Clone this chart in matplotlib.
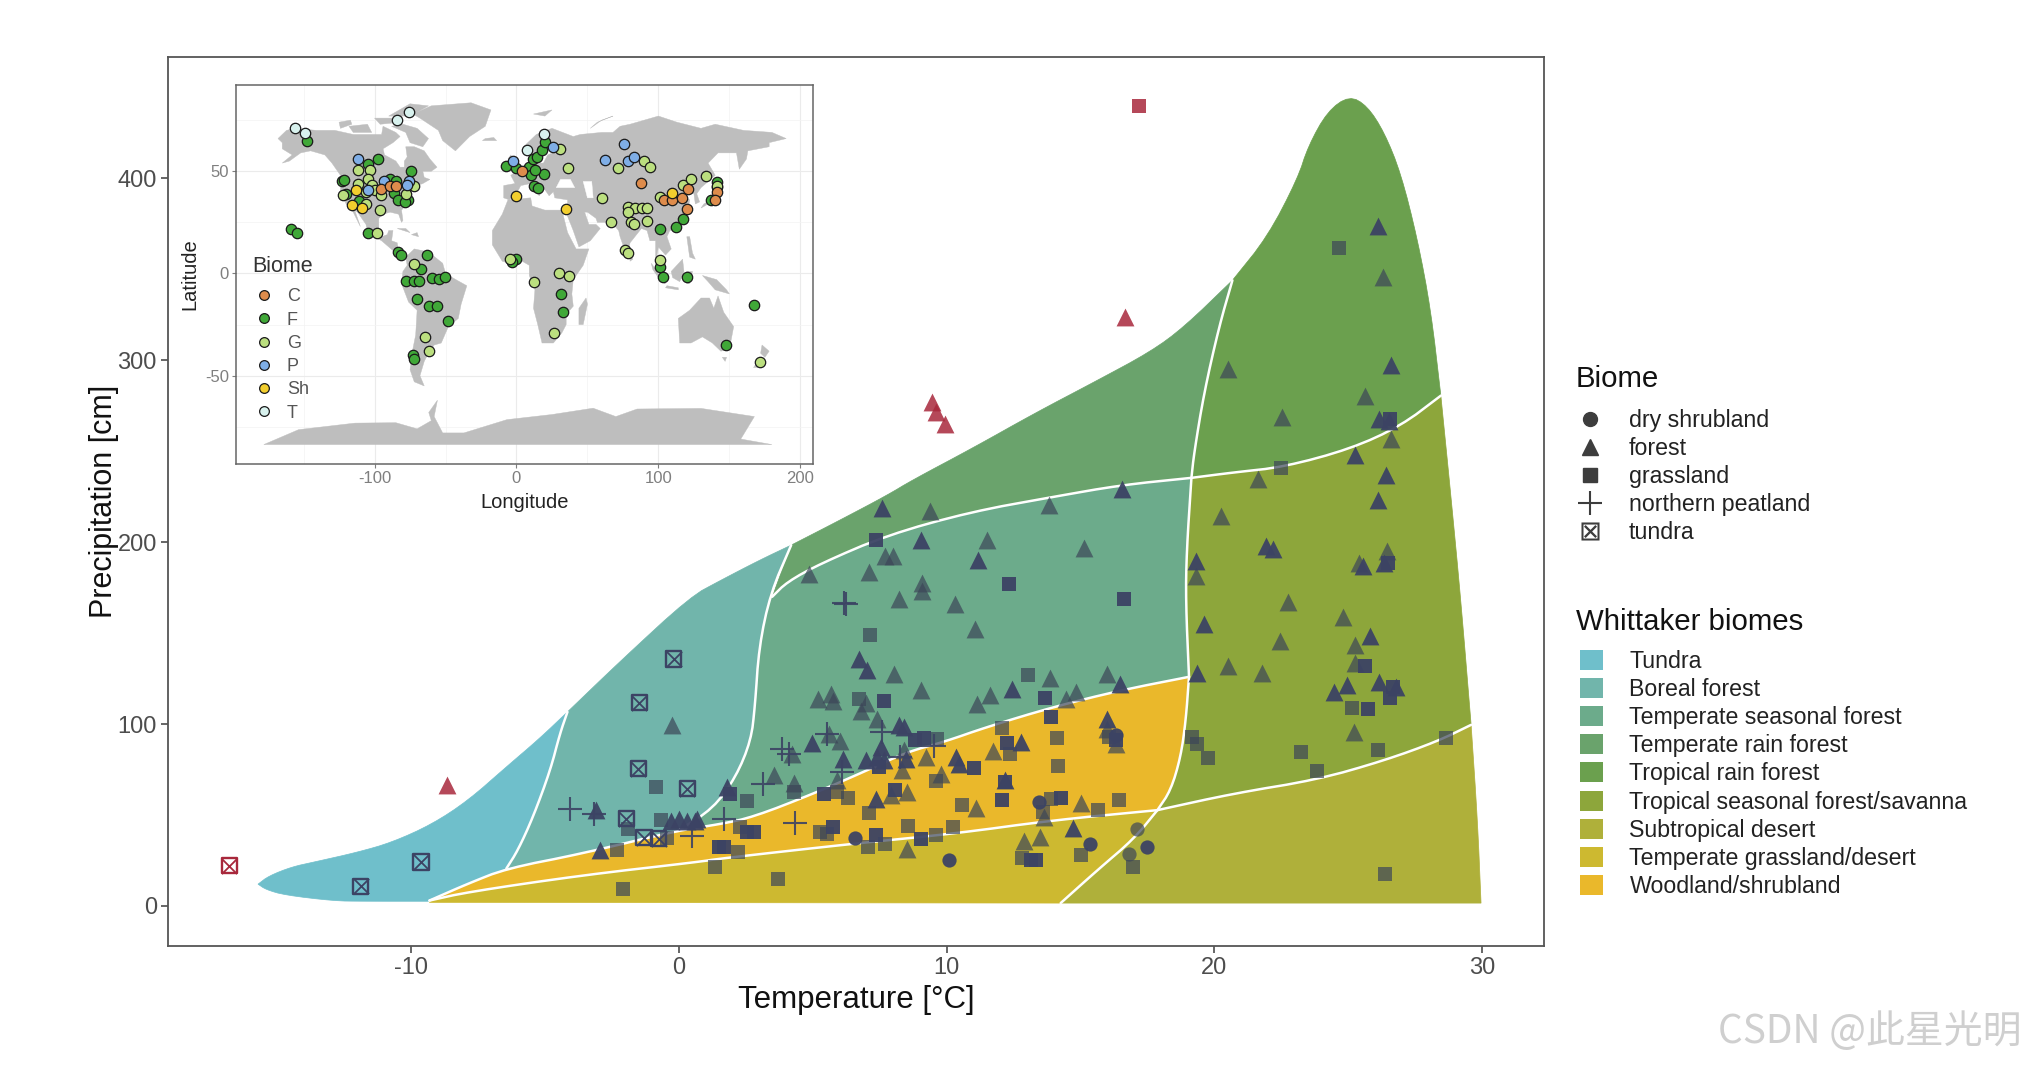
import numpy as np
import matplotlib
matplotlib.use("Agg")
import matplotlib.pyplot as plt
from matplotlib.lines import Line2D
from matplotlib.patches import Patch, Polygon

plt.rcParams['font.family'] = ['Liberation Sans', 'DejaVu Sans']
plt.rcParams['axes.unicode_minus'] = False

W, H = 2026, 1066

# ---- Whittaker boundaries, (temperature, precipitation) ----
tundra_top = [(-15.7, 12), (-15.3, 16.5), (-14.44, 21.5), (-13.6, 24.2), (-12, 29.5), (-10.7, 35), (-9.2, 45), (-7.86, 58), (-6.43, 76.5), (-5.2, 92), (-4.15, 106.7)]
tundra_bottom = [(-9.3, 2.6), (-11.8, 2.6), (-12.87, 2.8), (-14.7, 6), (-15.4, 9), (-15.7, 12)]
tundra_boreal = [(-4.15, 106.7), (-4.43, 94.8), (-4.79, 74.6), (-5.43, 49), (-6, 30.6), (-6.43, 20.6)]
boreal_top = [(-4.15, 106.7), (-2.15, 135), (0.43, 170), (1.56, 179), (3, 190), (4.2, 198.4)]
boreal_seasonal = [(4.2, 198.4), (3.43, 172), (3, 142.5), (2.85, 110), (2.7, 91), (2.14, 71), (1.29, 53.6), (0, 41.6)]
rain_top = [(4.2, 198.4), (6, 212), (7.8, 226), (8.7, 234), (11, 252), (13.3, 271), (15.5, 288), (17.62, 304.8), (18.87, 318.4), (20.67, 344)]
seasonal_rain = [(3.49, 170), (4.05, 178.2), (5.3, 188.3), (7.78, 203.9), (10.9, 216.7), (14, 225), (16.5, 231.4), (19.14, 235.4)]
rain_tropical_v = [(20.67, 344), (20.17, 318.4), (19.61, 282), (19.24, 249), (19.14, 235.4)]
seasonal_right = [(19.14, 235.4), (18.96, 194.7), (18.93, 167.5), (19.05, 126)]
tropical_top = [(20.67, 344), (21.98, 368), (23.1, 399.8), (23.5, 417.9), (24.22, 437), (25.03, 445.5), (25.7, 440), (26.34, 425.4), (26.96, 402.8), (27.58, 366.6), (28.08, 327.4), (28.45, 280.6)]
tropical_low = [(19.14, 235.4), (20.73, 238.4), (22.6, 241.4), (25.09, 251.4), (26.96, 264), (28.45, 280.6)]
savanna_right = [(28.45, 280.6), (28.83, 224.8), (29.2, 167.5), (29.58, 99.6)]
desert_right = [(29.58, 99.6), (29.82, 46.9), (29.95, 1.6)]
desert_top = [(17.87, 52.7), (20.73, 61.9), (23.85, 69.5), (26.34, 80), (28.33, 90.6), (29.58, 99.6)]
woodland_top = [(-9.3, 3), (-7.86, 12.3), (-6.43, 20.6), (-3.6, 28.8), (0, 41.6), (1.56, 45), (2.8, 49), (5.04, 61.8), (7.04, 74.6), (8.53, 84.7), (9.9, 90.2), (11.52, 98.5), (14, 109.5), (16.5, 118.6), (19.05, 126)]
woodland_right = [(19.05, 126), (18.93, 102), (18.74, 82), (18.37, 63.6), (17.87, 52.7)]
grass_right = [(17.87, 52.7), (17, 37), (15.63, 19.7), (14.26, 1.6)]
grass_top = [(-9.3, 3), (-7.86, 7.7), (-3.6, 16.9), (0.72, 24.2), (1.56, 26.1), (6.54, 34.3), (10.3, 39.8), (14, 47.2), (17.87, 52.7)]

biome_names = ['Tundra', 'Boreal forest', 'Temperate seasonal forest', 'Temperate rain forest',
               'Tropical rain forest', 'Tropical seasonal forest/savanna', 'Subtropical desert',
               'Temperate grassland/desert', 'Woodland/shrubland']
biome_colors = ['#6FBFCB', '#71B5AB', '#6CAB8B', '#6AA36C', '#6BA04E', '#8DA63B', '#AFB03A', '#CDB930', '#EAB82B']

# ---- study sites on the main panel ----
forest_dark_T = [7.60, 16.56, 9.05, 11.17, 6.73, 7.04, 8.22, 8.41, 12.46, 16.48, 4.96, 7.54, 6.98, 7.41, 7.66, 8.47, 6.14, 10.36, 10.46, 12.77, 12.17, 7.35, 16.0, 14.73,
                 26.09, 26.59, 26.13, 26.52, 25.24, 26.41, 26.09, 21.92, 22.2, 19.3, 25.53, 26.34, 19.6, 25.8, 19.36, 26.13, 24.93, 24.47, 26.77,
                 -3.1, -2.93, -0.3, 0.0, 0.3, 0.6, 0.7, 1.8]
forest_dark_P = [219.1, 229.2, 201.5, 190.5, 136.0, 129.6, 99.4, 98.5, 119.2, 122.3, 89.7, 87.5, 80.1, 82.0, 80.1, 81.0, 81.0, 82.0, 78.3, 90.2, 69.1, 59.1, 103.0, 42.9,
                 373.9, 297.2, 267.7, 266.5, 248.1, 236.9, 223.3, 197.7, 196.2, 189.9, 187.1, 188.6, 154.9, 148.5, 128.3, 123.2, 121.4, 117.8, 120.2,
                 52.6, 30.6, 47, 48, 47, 47, 48, 65.5]
forest_faint_T = [9.40, 13.82, 11.5, 15.13, 7.72, 8.01, 4.88, 7.12, 9.09, 9.09, 8.23, 10.3, 11.05, 8.03, 9.03, 5.21, 5.67, 5.75, 7.01, 6.81, 7.39, 11.61, 11.15, 13.86, 16.0, 14.85, 14.45,
                  5.61, 6.04, 4.24, 8.41, 9.22, 8.35, 11.74, 9.78, 3.55, 4.32, 5.92, 7.91, 8.51, 11.11, 15.03, 13.64, 16.0, 16.32, 12.89, 13.48, 8.53,
                  26.3, 20.51, 25.61, 22.51, 26.59, 21.64, 20.24, 19.3, 25.4, 26.44, 22.75, 24.78, 25.24, 22.44, 25.24, 20.52, 21.79, 25.22, -0.26]
forest_faint_P = [217.2, 220.4, 201.5, 196.7, 192.3, 192.3, 182.8, 183.7, 177.6, 173.3, 169.0, 165.9, 152.2, 127.4, 118.6, 113.7, 116.8, 112.8, 111.7, 107.3, 103.0, 115.9, 111.0, 125.2, 127.4, 117.9, 114.0,
                  94.8, 90.8, 83.8, 85.6, 82.0, 75.0, 85.3, 72.8, 71.9, 67.7, 69.1, 60.9, 62.7, 54.1, 56.7, 49.0, 97.5, 89.3, 35.8, 38.0, 31.6,
                  346.1, 295.1, 280.6, 268.6, 256.5, 234.8, 214.3, 181.7, 188.6, 195.3, 166.9, 159.1, 143.4, 145.5, 133.4, 132.2, 128.3, 95.7, 99.4]
grass_dark_T = [7.37, 12.33, 16.63, 7.66, 13.66, 13.89, 8.84, 9.16, 12.27, 11.02, 12.17, 5.42, 8.06, 12.06, 14.26, 5.77, 7.37, 9.03, 13.14, 13.33, 16.32, 7.47,
                26.55, 26.46, 25.63, 25.73, 26.65, 26.55, 1.93, 1.5, 1.7, 2.57, 2.8]
grass_dark_P = [201.1, 176.9, 168.7, 112.8, 114.2, 104.0, 91.1, 92.6, 89.7, 75.6, 68.2, 61.4, 63.6, 58.1, 59.4, 43.5, 38.9, 37.1, 25.5, 25.2, 91.1, 76.5,
                268, 188.6, 132.2, 108.1, 120.2, 114.1, 61.8, 32.5, 32.5, 40.7, 40.7]
grass_faint_T = [7.16, 13.04, 6.73, 12.08, 14.11, 9.65, 12.37, 14.16, 9.59, 5.92, 6.33, 7.1, 10.56, 13.89, 13.61, 15.67, 16.45, 5.52, 5.26, 8.57, 10.24, 9.59, 7.07, 7.7, 12.83, 15.01, 16.96, 3.7, 16.07,
                 24.63, 22.5, 25.13, 23.22, 23.82, 26.11, 28.64, 26.37, 19.15, 19.36, 19.77,
                 -0.83, -1.89, -2.29, -0.64, -0.43, 2.55, 4.3, -2.07, 1.36, 2.2, 2.3]
grass_faint_P = [149.2, 126.9, 114.0, 98.1, 92.4, 92.0, 83.8, 76.8, 68.6, 62.7, 59.6, 51.4, 55.4, 59.1, 51.7, 52.6, 58.1, 39.8, 40.7, 44.0, 43.5, 39.3, 32.5, 33.9, 26.4, 27.9, 21.5, 15.1, 93.0,
                 361.8, 240.8, 108.7, 84.6, 74, 85.5, 92.1, 17.6, 92.7, 89.1, 81.6,
                 65.5, 42.6, 31, 47.5, 37.6, 57.6, 62.7, 9.6, 21.5, 29.7, 43.5]
shrub_dark_T = [6.6, 13.45, 10.1, 15.34, 17.47, 16.32]
shrub_dark_P = [37.4, 57.2, 25.2, 33.9, 32.5, 93.9]
shrub_faint_T = [17.09, 16.81]
shrub_faint_P = [42.2, 28.8]
peat_T = [6.17, 6.23, 7.6, 5.54, 6.1, 9.53, 8.28, -4.07, -3.15, 0.5, 1.69, 4.36, 3.14, 3.86, 4.12]
peat_P = [166.7, 165.9, 95.7, 94.8, 73.7, 88.0, 82, 53.5, 50.8, 38.3, 48, 45.7, 67.3, 86.5, 83.4]
tundra_T = [-11.87, -9.62, -0.19, -1.47, -1.5, 0.33, -1.96, -1.29, -0.74]
tundra_P = [10.8, 24.2, 135.8, 111.7, 75.5, 64.5, 48, 37.6, 37]

# sites that fall outside the biome polygons
out_forest_T = [-8.63, 16.65, 9.46, 9.6, 9.94]
out_forest_P = [66.4, 324, 277, 271.4, 265]
out_grass_T = [17.2]
out_grass_P = [439.8]
out_tundra_T = [-16.77]
out_tundra_P = [22.2]

site_labels = ['dry shrubland', 'forest', 'grassland', 'northern peatland', 'tundra']

# ---- inset: land outlines (lon, lat) ----
land = [
    [(-168, 66), (-162, 70), (-156, 71), (-141, 70), (-128, 70), (-115, 68), (-108, 68), (-95, 68), (-94, 72), (-85, 69), (-82, 67), (-87, 64), (-94, 61), (-93, 58), (-85, 55), (-82, 52), (-79, 52), (-79, 55), (-77, 57), (-78, 62), (-72, 62), (-65, 60), (-61, 56), (-56, 52), (-60, 50), (-66, 50), (-65, 47), (-61, 46), (-66, 44), (-70, 43), (-70, 41), (-74, 40), (-76, 37), (-76, 35), (-81, 31), (-80, 26), (-81, 25), (-83, 29), (-89, 30), (-94, 29), (-97, 27), (-97, 22), (-95, 18), (-91, 19), (-90, 21), (-87, 21), (-88, 16), (-84, 15), (-83, 10), (-79, 9), (-77, 8), (-80, 7), (-85, 10), (-90, 13), (-95, 16), (-105, 20), (-106, 24), (-112, 30), (-114, 31), (-110, 23), (-115, 30), (-120, 34), (-124, 40), (-124, 48), (-130, 54), (-135, 58), (-145, 60), (-152, 59), (-160, 55), (-165, 54), (-158, 58), (-165, 61), (-165, 64)],
    [(-80, 73), (-70, 71), (-62, 66), (-66, 62), (-75, 64), (-78, 69), (-88, 72)],
    [(-118, 72), (-105, 73), (-102, 69), (-115, 69)],
    [(-125, 74), (-117, 75), (-116, 73), (-124, 71)],
    [(-100, 76), (-88, 76), (-82, 74), (-96, 73)],
    [(-90, 77), (-75, 83), (-62, 82), (-75, 77)],
    [(-73, 78), (-60, 82), (-32, 83.5), (-18, 80), (-22, 72), (-33, 67), (-43, 60), (-52, 65), (-55, 70), (-68, 76)],
    [(-78, 8), (-72, 12), (-62, 10.5), (-52, 5), (-50, 0), (-44, -2.5), (-35, -6), (-39, -15), (-41, -22), (-48, -26), (-53, -34), (-58, -35), (-62, -39), (-65, -43), (-68, -50), (-65, -55), (-72, -53), (-75, -47), (-73, -37), (-71, -30), (-70, -18), (-76, -14), (-81, -5), (-80, 1), (-77, 4)],
    [(-6, 36), (10, 37), (11, 33), (20, 31), (32, 31), (36, 20), (42, 12), (51, 12), (47, 4), (40, -3), (39, -10), (40, -16), (35, -20), (35, -25), (32, -29), (26, -34), (18, -34), (15, -25), (12, -17), (13, -8), (9, -1), (9, 4), (4, 6), (-5, 5), (-10, 6), (-17, 14), (-17, 21), (-10, 29)],
    [(-9, 37), (-9, 43), (-1, 44), (-4, 48), (2, 51), (8, 54), (9, 57), (11, 54), (19, 54), (22, 58), (29, 60), (22, 60), (22, 65), (17, 61), (16, 56), (12, 56), (11, 59), (5, 59), (5, 62), (14, 68), (25, 71), (40, 67), (45, 68), (60, 69), (68, 69), (73, 72), (80, 73), (100, 77), (113, 74), (130, 71), (140, 73), (160, 70), (180, 69), (190, 66), (178, 64), (178, 62), (163, 60), (162, 56), (157, 51), (155, 59), (142, 59), (135, 54), (140, 48), (130, 42), (127, 39), (129, 35), (126, 34), (125, 39), (121, 39), (118, 38), (122, 36), (121, 31), (120, 26), (113, 22), (108, 21), (106, 18), (109, 12), (105, 9), (100, 13), (99, 9), (103, 2), (101, 3), (98, 8), (98, 16), (94, 16), (92, 21), (88, 22), (80, 15), (78, 8), (73, 18), (72, 21), (67, 25), (57, 25), (56, 27), (50, 30), (48, 30), (51, 24), (56, 24), (59, 22), (52, 16), (44, 13), (40, 21), (36, 28), (36, 36), (27, 37), (26, 40), (23, 38), (20, 41), (13, 45), (18, 40), (16, 38), (10, 44), (3, 43), (0, 39), (-5, 36)],
    [(-5, 50), (1, 51), (-2, 56), (-4, 58), (-6, 56), (-3, 53)],
    [(-10, 52), (-6, 52), (-6, 55), (-9, 54)],
    [(-24, 65), (-14, 65), (-16, 66.5), (-22, 66)],
    [(44, -25), (47, -25), (50, -15), (49, -12), (44, -17)],
    [(130, 32), (135, 34), (140, 35), (142, 40), (141, 41), (139, 37), (132, 34)],
    [(140, 42), (145, 43), (142, 45)],
    [(95, 5), (105, -5), (102, -4), (96, 2)],
    [(109, 1), (117, 7), (118, 1), (115, -4), (110, -2)],
    [(105, -7), (114, -8), (114, -7), (106, -6)],
    [(131, -1), (141, -3), (148, -8), (150, -10), (140, -8), (135, -4)],
    [(120, 18), (122, 18), (124, 10), (126, 7), (122, 8)],
    [(120, 1), (124, 1), (122, -5), (120, -5)],
    [(114, -22), (122, -18), (130, -12), (136, -12), (139, -17), (142, -11), (146, -19), (153, -26), (150, -37), (144, -38), (138, -34), (131, -31), (123, -34), (115, -34)],
    [(145, -41), (148, -41), (147, -43)],
    [(173, -35), (178, -38), (175, -41), (172, -39)],
    [(167, -46), (171, -46), (174, -42), (172, -41)],
    [(80, 9), (82, 7), (80, 6)],
    [(-84, 22), (-75, 20), (-78, 22)],
    [(-74, 19), (-69, 18), (-70, 20)],
    [(52, 71), (57, 74), (68, 77), (60, 75)],
    [(12, 78), (25, 80), (20, 77)],
    [(-178, -83.7), (-153.5, -76.4), (-113.8, -73.2), (-85, -73), (-70, -76), (-60, -72), (-61.8, -68), (-55.7, -62), (-58, -70), (-52, -78), (-37, -78), (-6.7, -71.5), (25, -69), (54, -65.9), (70, -70), (85, -66.3), (130, -66), (167.6, -70), (158, -81), (180, -83.7)],
]
water = [
    [(-92, 47), (-85, 48), (-80, 44), (-83, 42), (-87, 42)],
    [(28, 42), (41, 42), (38, 46), (31, 46)],
    [(47, 45), (53, 45), (54, 37), (50, 37)],
]

# ---- inset: sites by biome (lon, lat) ----
map_labels = ['C', 'F', 'G', 'P', 'Sh', 'T']
map_colors = ['#DE8C4C', '#40A838', '#BBDF7F', '#7FAEE6', '#F2CE2E', '#D8F2EE']
lon_C = [-95.4, -89.3, -84.7, 4, 87.5, 104, 109.5, 116.5, 120.8, 120.2, 141, 140]
lat_C = [41.5, 42.6, 42.6, 50.1, 44.4, 35.8, 35.8, 36.9, 41.1, 31.4, 39.8, 35.8]
lon_F = [-147.4, -159, -154.7, -97.6, -104.6, -74, -123, -121.4, -119.9, -110.7, -89.3, -84.7, -86.2, -83.2, -76.5, -78.6, -104.6, -83.2, -81.7, -62.7, -67, -78, -72.5, -68.8, -59.6, -54.7, -50.5, -70.3, -61.8, -55.7, -48, -72.8, -72.2,
         -0.6, -3.1, 31.5, 33, -7.3, -0.6, 8.6, 11.6, 14.7, 17.7, 19.9, 10, 19.3, 13.1, 12.2, 15.3, 100.9, 112.5, 117.1, 101.2, 103.4, 120.2, 137, 141.6, 141.6, 167, 147.7]
lat_F = [64.9, 22, 19.8, 56, 53.7, 49.9, 45, 45.9, 39, 35.3, 46.3, 45.2, 39.3, 35.8, 35.8, 35, 19.7, 10.6, 8.9, 9.1, 2.1, -3.9, -3.9, -3.7, -2.4, -2.9, -1.6, -12.7, -15.9, -15.8, -23.1, -39.8, -41.8,
         7.3, 5.7, -9.9, -19, 52.8, 51.5, 52, 56.1, 56.9, 60.2, 64.2, 48, 48.5, 50.4, 42.6, 42, 22, 22.8, 26.5, 3.3, -1.6, -1.6, 35.8, 44.7, 42.3, -15.4, -35]
lon_G = [-122, -112, -103, -104.6, -111.3, -101.5, -106.1, -99.4, -95.4, -106.1, -96.3, -98.5, -77.7, -71.9, -72.5, -64.2, -61.8,
         -4.3, 12.2, 30, 37.3, 26.3, 30.6, 36.4, 59.9, 71.6, 89.6, 94.2, 66.7, 78.3, 83.5, 88.1, 91.7, 78.9, 80.4, 82.6, 91.7, 76.8, 78.3, 100.9, 100.9, 117.1, 123.2, 133.3, 141.6, 171.6]
lat_G = [38.2, 50.4, 50.4, 46.3, 43.9, 43.1, 39.8, 40.7, 38.2, 34.1, 31.2, 19.8, 39, 42.6, 4.6, -31.2, -37.9,
         7.3, -4.1, 0, -1.1, -28.9, 61, 51.5, 36.9, 51.5, 54.8, 52, 25.2, 32.5, 32.2, 32.2, 32.2, 30.1, 25.2, 24.4, 25.7, 11.4, 9.8, 6.5, 37.4, 43.1, 46.3, 47.5, 42.8, -43.4]
lon_P = [-111.9, -93.3, -104.6, -75.5, -77, -2.1, 25.4, 62.7, 75.8, 78.9, 82.6]
lat_P = [55.8, 45.2, 40.7, 45.2, 43.1, 54.8, 61.8, 55.4, 63.3, 55, 56.9]
lon_Sh = [-112.8, -116.2, -108.6, -0.6, 35.2, 109.5]
lat_Sh = [40.7, 33.7, 32.2, 37.9, 31.7, 39.3]
lon_T = [-156, -149, -84.4, -75.5, 19.3, 7.6]
lat_T = [71.4, 68.5, 75.3, 79, 68.3, 60.5]


def chaikin(points, passes=2):
    # rounds off the corners of a boundary, end points stay where they are
    pts = np.array(points, dtype=float)
    for _ in range(passes):
        q = 0.75 * pts[:-1] + 0.25 * pts[1:]
        r = 0.25 * pts[:-1] + 0.75 * pts[1:]
        mid = np.empty((2 * len(q), 2))
        mid[0::2] = q
        mid[1::2] = r
        pts = np.vstack([pts[0], mid, pts[-1]])
    return pts


def rev(points):
    return points[::-1]


def part(points, start, stop):
    # piece of a boundary between two of its vertices
    return points[points.index(start):points.index(stop) + 1]


def outline(*edges):
    return np.vstack([chaikin(e) for e in edges])


def to_axes_box(x0, y0, x1, y1):
    return [x0 / W, 1 - y1 / H, (x1 - x0) / W, (y1 - y0) / H]


fig = plt.figure(figsize=(W / 100, H / 100), dpi=100, facecolor='white')
ax = fig.add_axes(to_axes_box(168, 57, 1544, 946))
ax.set_xlim(-19.06, 32.3)
ax.set_ylim(-22, 466.8)

wt_a, wt_b = (-9.3, 3), (-6.43, 20.6)
wt_c = (0, 41.6)
wt_d = (19.05, 126)
polys = [
    outline(tundra_top, tundra_boreal, rev(part(woodland_top, wt_a, wt_b)), tundra_bottom),
    outline(boreal_top, boreal_seasonal, rev(part(woodland_top, wt_b, wt_c)), rev(tundra_boreal)),
    outline(seasonal_rain, seasonal_right, rev(part(woodland_top, wt_c, wt_d)), rev(boreal_seasonal)[:-1]),
    outline(rain_top, rain_tropical_v, rev(seasonal_rain), [(3.49, 170), (4.2, 198.4)]),
    outline(tropical_top, rev(tropical_low), rev(rain_tropical_v)),
    outline(tropical_low, savanna_right, rev(desert_top), rev(woodland_right), rev(seasonal_right)),
    outline(rev(grass_right), desert_top, desert_right, [(29.95, 1.6), (14.26, 1.6)]),
    outline(grass_top, grass_right, [(14.26, 1.6), (-9.3, 2)]),
    outline(woodland_top, woodland_right, rev(grass_top)),
]
for verts, col in zip(polys, biome_colors):
    ax.add_patch(Polygon(verts, closed=True, facecolor=col, edgecolor=col, lw=0.5, zorder=1))

# white lines between the biomes
inner_lines = [tundra_boreal, boreal_seasonal, seasonal_rain, rain_tropical_v, seasonal_right, tropical_low,
               desert_top, woodland_top, woodland_right, grass_right, grass_top]
for edge in inner_lines:
    pts = chaikin(edge)
    ax.plot(pts[:, 0], pts[:, 1], color='white', lw=1.8, zorder=2, solid_capstyle='round')

site_dark = '#3C4364'
site_faint = '#3C4658'
red = '#A8283C'
s_tri, s_sq, s_circ = 165, 112, 105

ax.scatter(forest_faint_T, forest_faint_P, marker='^', s=s_tri, color=site_faint, alpha=0.7, lw=0, zorder=3)
ax.scatter(grass_faint_T, grass_faint_P, marker='s', s=s_sq, color=site_faint, alpha=0.7, lw=0, zorder=3)
ax.scatter(shrub_faint_T, shrub_faint_P, marker='o', s=s_circ, color=site_faint, alpha=0.7, lw=0, zorder=3)
ax.scatter(forest_dark_T, forest_dark_P, marker='^', s=s_tri, color=site_dark, alpha=0.95, lw=0, zorder=4)
ax.scatter(grass_dark_T, grass_dark_P, marker='s', s=s_sq, color=site_dark, alpha=0.95, lw=0, zorder=4)
ax.scatter(shrub_dark_T, shrub_dark_P, marker='o', s=s_circ, color=site_dark, alpha=0.95, lw=0, zorder=4)
ax.scatter(peat_T, peat_P, marker='+', s=300, color=site_dark, lw=1.5, alpha=0.9, zorder=4)
ax.scatter(tundra_T, tundra_P, marker='s', s=120, facecolor='none', edgecolor=site_dark, lw=1.7, zorder=4)
ax.scatter(tundra_T, tundra_P, marker='x', s=120, color=site_dark, lw=1.3, zorder=4)
ax.scatter(out_forest_T, out_forest_P, marker='^', s=s_tri, color=red, alpha=0.85, lw=0, zorder=4)
ax.scatter(out_grass_T, out_grass_P, marker='s', s=s_sq, color=red, alpha=0.85, lw=0, zorder=4)
ax.scatter(out_tundra_T, out_tundra_P, marker='s', s=120, facecolor='none', edgecolor=red, lw=1.7, zorder=4)
ax.scatter(out_tundra_T, out_tundra_P, marker='x', s=120, color=red, lw=1.3, zorder=4)

ax.set_xticks([-10, 0, 10, 20, 30])
ax.set_yticks([0, 100, 200, 300, 400])
ax.tick_params(labelsize=17, colors='#4d4d4d', length=5, width=1.2, pad=3)
for sp in ax.spines.values():
    sp.set_color('#555555')
    sp.set_linewidth(1.3)
ax.set_xlabel('Temperature [°C]', fontsize=22.5, color='#111111', labelpad=4)
ax.set_ylabel('Precipitation [cm]', fontsize=22, color='#111111', labelpad=-1)

# legends on the right
site_handles = [
    Line2D([], [], marker='o', ls='', color='#3d3d3d', ms=10),
    Line2D([], [], marker='^', ls='', color='#3d3d3d', ms=12),
    Line2D([], [], marker='s', ls='', color='#3d3d3d', ms=10),
    Line2D([], [], marker='+', ls='', color='#3d3d3d', ms=17, mew=1.5),
    Line2D([], [], marker='$\\boxtimes$', ls='', color='#3d3d3d', ms=13, mew=0),
]
fig.text(1576 / W, 1 - 378.5 / H, 'Biome', fontsize=21.2, color='#111111', va='center')
fig.text(1576 / W, 1 - 621.5 / H, 'Whittaker biomes', fontsize=21.2, color='#111111', va='center')
leg1 = ax.legend(site_handles, site_labels, loc='upper left', bbox_to_anchor=(1573 / W, 1 - 409 / H),
                 bbox_transform=fig.transFigure, frameon=False, fontsize=16.7, labelcolor='#222222',
                 labelspacing=0.22, handletextpad=0.9, handlelength=1.5, borderpad=0, borderaxespad=0)
biome_handles = [Patch(facecolor=c, edgecolor='none') for c in biome_colors]
leg2 = fig.legend(biome_handles, biome_names, loc='upper left', bbox_to_anchor=(1580 / W, 1 - 650 / H),
                  frameon=False, fontsize=16.7, labelcolor='#222222', labelspacing=0.22, handletextpad=1.13,
                  handlelength=1.0, handleheight=0.95, borderpad=0, borderaxespad=0)

# world map inset
ins = fig.add_axes(to_axes_box(236, 85, 813, 464), zorder=5)
ins.set_facecolor('white')
ins.set_xlim(-197.6, 208.9)
ins.set_ylim(-93.2, 92.2)
ins.set_xticks([-100, 0, 100, 200])
ins.set_yticks([-50, 0, 50])
ins.set_xticks([-150, -50, 50, 150], minor=True)
ins.set_yticks([-75, -25, 25, 75], minor=True)
ins.grid(True, which='major', color='#ebebeb', lw=0.8)
ins.grid(True, which='minor', color='#f3f3f3', lw=0.5)
ins.set_axisbelow(True)
for shape in land:
    ins.add_patch(Polygon(shape, closed=True, facecolor='#BEBEBE', edgecolor='#BEBEBE', lw=0.3, zorder=1))
for shape in water:
    ins.add_patch(Polygon(shape, closed=True, facecolor='white', edgecolor='white', lw=0.3, zorder=1.5))

map_lons = [lon_C, lon_F, lon_G, lon_P, lon_Sh, lon_T]
map_lats = [lat_C, lat_F, lat_G, lat_P, lat_Sh, lat_T]
draw_order = [1, 2, 3, 0, 4, 5]
for i in draw_order:
    ins.scatter(map_lons[i], map_lats[i], s=56, color=map_colors[i], edgecolor='#1a1a1a', lw=0.9, zorder=3)

ins.tick_params(which='major', labelsize=12, colors='#7f7f7f', length=3, width=0.8, pad=2)
ins.tick_params(which='minor', length=0)
for sp in ins.spines.values():
    sp.set_color('#666666')
    sp.set_linewidth(1.1)
ins.set_xlabel('Longitude', fontsize=14.5, color='#222222', labelpad=5)
ins.set_ylabel('Latitude', fontsize=14.5, color='#222222', labelpad=4)
map_handles = [Line2D([], [], marker='o', ls='', ms=7, mfc=c, mec='#1a1a1a', mew=0.9) for c in map_colors]
ins_leg = ins.legend(map_handles, map_labels, loc='lower left', bbox_to_anchor=(0.007, 0.078), frameon=False,
                     fontsize=13, labelcolor='#555555', title='Biome', title_fontsize=15.5, alignment='left',
                     labelspacing=0.35, handletextpad=0.7, handlelength=1.2, borderpad=0.2)
ins_leg.get_title().set_color('#333333')
ins_leg._legend_box.sep = 8.2  # a bit more room under the title

# watermark
fig.text(2021 / W, 1 - 1032 / H, 'CSDN @此星光明', ha='right', va='center', fontsize=28, color='#cfcfcf',
         family=['Noto Sans CJK SC', 'DejaVu Sans'])

fig.savefig('out.png', dpi=100)
